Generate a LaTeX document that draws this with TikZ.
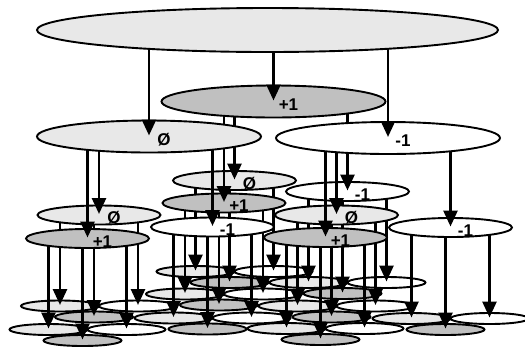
\documentclass[tikz,border=0pt]{standalone}
\usepackage{fontspec}
\setmainfont{Liberation Sans}
\usetikzlibrary{shapes.geometric,arrows.meta,calc}

\definecolor{lightgrey}{HTML}{E8E8E8}
\definecolor{darkgrey}{HTML}{C0C0C0}

% vertical arrow from the rim of #1 down to the centre of #2 (#3, #4 = radii of #1)
\newcommand\connect[4]{%
  \draw[wire] let \p1 = (#1.center), \p2 = (#2.center) in
    (\x2, {\y1 - #4*sqrt(1 - ((\x2 - \x1)/#3)^2)}) -- (#2.center);}

% the three leaves below a second-level node
\newcommand\leaves[1]{%
  \node[leaf, nulcol] (#1z) at ([shift={(-39,91)}]#1) {};
  \connect{#1}{#1z}{61.5}{9.5}
  \node[leaf, negcol] (#1m) at ([shift={(39,91)}]#1) {};
  \connect{#1}{#1m}{61.5}{9.5}
  \node[leaf, poscol] (#1p) at ([shift={(-5,102)}]#1) {};
  \connect{#1}{#1p}{61.5}{9.5}}

% sign printed beside the arrow tip of node #1
\newcommand\sign[2]{\node[signtext] (#1-sign) at ([shift={(15,3)}]#1) {#2};}

\begin{document}
\begin{tikzpicture}[x=1pt, y=-1pt]
    \tikzstyle{oval} = [ellipse, draw, line width=1.9pt, inner sep=0pt]
    \tikzstyle{rootnode} = [oval, minimum width=461pt, minimum height=44pt]
    \tikzstyle{bignode} = [oval, minimum width=224pt, minimum height=32pt]
    \tikzstyle{midnode} = [oval, minimum width=123pt, minimum height=19pt]
    \tikzstyle{leaf} = [oval, minimum width=78pt, minimum height=11pt]
    \tikzstyle{nulcol} = [fill=lightgrey]
    \tikzstyle{poscol} = [fill=darkgrey]
    \tikzstyle{negcol} = [fill=white]
    \tikzstyle{signtext} = [inner sep=0pt, font=\fontsize{17}{17}\selectfont\bfseries]
    \tikzstyle{wire} = [line width=2.8pt, shorten >=1pt, -{Triangle[length=16pt, width=14pt]}]

    \useasboundingbox (0,0) rectangle (525,349);
    \clip (0,0) rectangle (525,349);

    \node [rootnode, nulcol] (r) at (267.5,30) {};

    % back branch
    \node [bignode, poscol] (p) at (273.5,101.5) {};
    \sign{p}{+1}
    \connect{r}{p}{230.5}{22}
    \node [midnode, nulcol] (pz) at (234.5,180.5) {};
    \sign{pz}{Ø}
    \connect{p}{pz}{112}{16}
    \leaves{pz}
    \node [midnode, negcol] (pm) at (347.5,191.5) {};
    \sign{pm}{-1}
    \connect{p}{pm}{112}{16}
    \leaves{pm}
    \node [midnode, poscol] (pp) at (224,203) {};
    \sign{pp}{+1}
    \connect{p}{pp}{112}{16}
    \leaves{pp}

    % left branch
    \node [bignode, nulcol] (z) at (149,136.5) {};
    \sign{z}{Ø}
    \connect{r}{z}{230.5}{22}
    \node [midnode, nulcol] (zz) at (99,215) {};
    \sign{zz}{Ø}
    \connect{z}{zz}{112}{16}
    \leaves{zz}
    \node [midnode, negcol] (zm) at (212.5,227) {};
    \sign{zm}{-1}
    \connect{z}{zm}{112}{16}
    \leaves{zm}
    \node [midnode, poscol] (zp) at (87.5,238.5) {};
    \sign{zp}{+1}
    \connect{z}{zp}{112}{16}
    \leaves{zp}

    % right branch
    \node [bignode, negcol] (m) at (388,138) {};
    \sign{m}{-1}
    \connect{r}{m}{230.5}{22}
    \node [midnode, nulcol] (mz) at (336.5,215) {};
    \sign{mz}{Ø}
    \connect{m}{mz}{112}{16}
    \leaves{mz}
    \node [midnode, negcol] (mm) at (450.5,227.5) {};
    \sign{mm}{-1}
    \connect{m}{mm}{112}{16}
    \leaves{mm}
    \node [midnode, poscol] (mp) at (325.5,237.5) {};
    \sign{mp}{+1}
    \connect{m}{mp}{112}{16}
    \leaves{mp}
\end{tikzpicture}
\end{document}
